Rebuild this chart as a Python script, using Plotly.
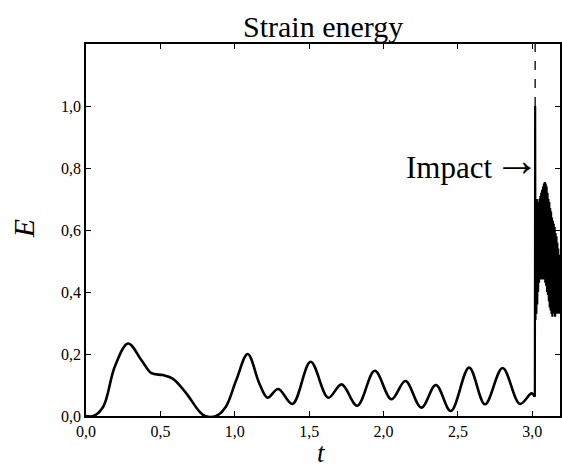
import plotly.graph_objects as go

# ---- data ----
t_smooth = [0.00, 0.05, 0.116, 0.194, 0.283, 0.373, 0.44, 0.517, 0.585, 0.674, 0.763, 0.80,
            0.875, 0.94, 1.01, 1.087, 1.165, 1.22, 1.292, 1.388, 1.51, 1.628, 1.718, 1.823,
            1.941, 2.053, 2.147, 2.254, 2.352, 2.452, 2.575, 2.682, 2.80, 2.916, 2.995, 3.017]
E_smooth = [0.000, 0.000, 0.030, 0.160, 0.234, 0.180, 0.138, 0.132, 0.120, 0.073, 0.014, 0.000,
            0.000, 0.030, 0.116, 0.200, 0.105, 0.059, 0.087, 0.039, 0.175, 0.059, 0.102, 0.033,
            0.146, 0.054, 0.113, 0.027, 0.100, 0.016, 0.156, 0.038, 0.155, 0.039, 0.073, 0.062]

t_impact = [3.017, 3.019, 3.021, 3.024, 3.027, 3.030, 3.033, 3.036, 3.039, 3.042, 3.045, 3.048,
            3.051, 3.054, 3.057, 3.060, 3.063, 3.066, 3.069, 3.072, 3.075, 3.078, 3.081, 3.084,
            3.087, 3.090, 3.093, 3.096, 3.099, 3.102, 3.105, 3.108, 3.111, 3.114, 3.117, 3.120,
            3.123, 3.126, 3.129, 3.132, 3.135, 3.138, 3.141, 3.144, 3.147, 3.150, 3.153, 3.156,
            3.159, 3.162, 3.165, 3.168, 3.171, 3.174, 3.177, 3.180, 3.183, 3.186]
E_impact = [0.062, 1.000, 0.310, 0.690, 0.330, 0.700, 0.360, 0.680, 0.400, 0.690, 0.430, 0.700,
            0.440, 0.710, 0.460, 0.720, 0.440, 0.730, 0.450, 0.740, 0.440, 0.750, 0.460, 0.755,
            0.430, 0.750, 0.420, 0.740, 0.400, 0.720, 0.390, 0.700, 0.370, 0.690, 0.350, 0.670,
            0.340, 0.660, 0.330, 0.640, 0.320, 0.630, 0.330, 0.620, 0.340, 0.610, 0.320, 0.590,
            0.340, 0.580, 0.330, 0.560, 0.330, 0.540, 0.330, 0.520, 0.330, 0.500]

impact_t = 3.019
impact_peak = 1.0

x_ticks = [0.0, 0.5, 1.0, 1.5, 2.0, 2.5, 3.0]
x_ticktext = ["0,0", "0,5", "1,0", "1,5", "2,0", "2,5", "3,0"]
y_ticks = [0.0, 0.2, 0.4, 0.6, 0.8, 1.0]
y_ticktext = ["0,0", "0,2", "0,4", "0,6", "0,8", "1,0"]

title_text = "Strain energy"
x_title = "t"
y_title = "E"
impact_label = "Impact"
arrow_label = "\u2192"

x_range = [0, 3.186]
y_range = [0, 1.2]

SERIF = "Liberation Serif, Times New Roman, serif"

fig = go.Figure()
fig.add_trace(go.Scatter(x=t_smooth, y=E_smooth, mode="lines",
                         line=dict(color="black", width=2.6, shape="spline", smoothing=1.0),
                         showlegend=False, hoverinfo="skip"))
fig.add_trace(go.Scatter(x=t_impact, y=E_impact, mode="lines",
                         line=dict(color="black", width=2.2),
                         showlegend=False, hoverinfo="skip"))

fig.add_shape(type="line", xref="x", yref="y", x0=impact_t, x1=impact_t,
              y0=impact_peak, y1=y_range[1],
              line=dict(color="black", width=1.3, dash="dash"))

axis_common = dict(showline=True, linecolor="black", linewidth=1.5, mirror="ticks",
                   ticks="inside", ticklen=5, tickwidth=1, tickcolor="black",
                   showgrid=False, zeroline=False,
                   tickfont=dict(family=SERIF, size=16, color="black"))

fig.update_xaxes(range=x_range, tickvals=x_ticks, ticktext=x_ticktext, **axis_common)
fig.update_yaxes(range=y_range, tickvals=y_ticks, ticktext=y_ticktext, **axis_common)

fig.add_annotation(text=title_text, xref="paper", yref="paper", x=0.5, y=1.046,
                   xanchor="center", yanchor="middle", showarrow=False,
                   font=dict(family=SERIF, size=30, color="black"))
fig.add_annotation(text="<i>" + x_title + "</i>", xref="paper", yref="paper", x=0.497, y=-0.100,
                   xanchor="center", yanchor="middle", showarrow=False,
                   font=dict(family=SERIF, size=27, color="black"))
fig.add_annotation(text="<i>" + y_title + "</i>", xref="paper", yref="paper", x=-0.130, y=0.503,
                   xanchor="center", yanchor="middle", showarrow=False, textangle=-90,
                   font=dict(family=SERIF, size=30, color="black"))
fig.add_annotation(text=impact_label, xref="x", yref="y", x=2.745, y=0.803,
                   xanchor="right", yanchor="middle", showarrow=False,
                   font=dict(family=SERIF, size=31, color="black"))
fig.add_annotation(text=arrow_label, xref="x", yref="y", x=2.895, y=0.823,
                   xanchor="center", yanchor="middle", showarrow=False,
                   font=dict(family=SERIF, size=46, color="black"))

fig.update_layout(width=562, height=465, margin=dict(l=86, r=0, t=44, b=49),
                  plot_bgcolor="white", paper_bgcolor="white")

fig.write_html("out.html", config={"displayModeBar": False},
               post_script="document.body.style.margin='0px';")
